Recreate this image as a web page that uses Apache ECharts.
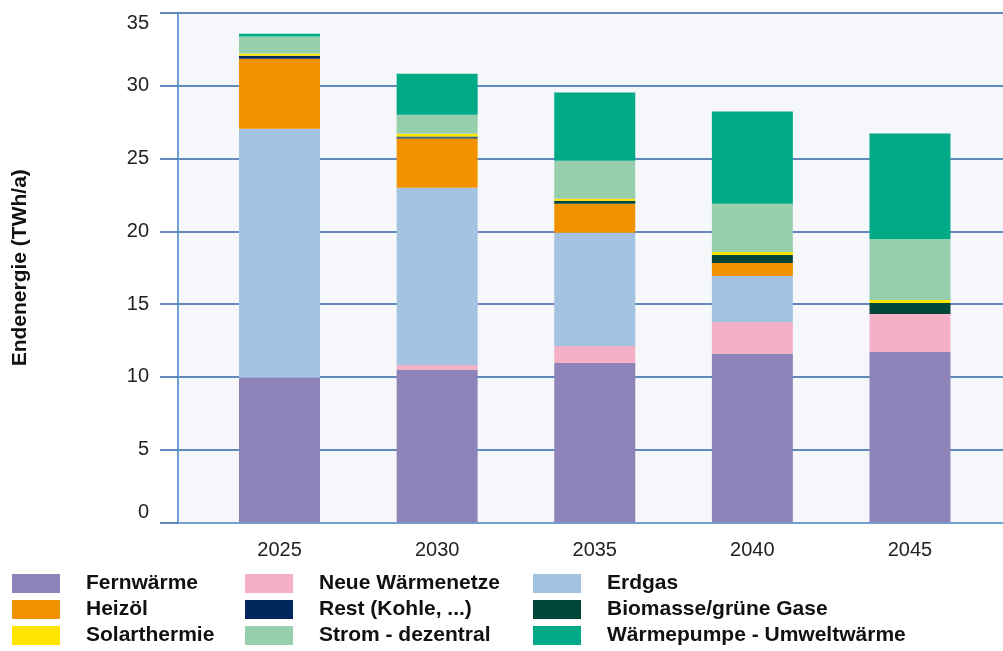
<!DOCTYPE html>
<html>
<head>
<meta charset="utf-8">
<script src="https://cdn.jsdelivr.net/npm/echarts/dist/echarts.min.js"></script>
<style>
  html, body { margin: 0; padding: 0; background: #fff; }
  #chart { width: 1003px; height: 651px; }
</style>
</head>
<body>
<div id="chart"></div>
<script>
var years = ['2025', '2030', '2035', '2040', '2045'];
var fernwaerme = [9.95, 10.48, 10.96, 11.6, 11.71];
var neueWaermenetze = [0, 0.34, 1.16, 2.17, 2.62];
var erdgas = [17.1, 12.17, 7.78, 3.17, 0];
var heizoel = [4.81, 3.39, 1.99, 0.89, 0];
var rest = [0.21, 0.07, 0, 0, 0];
var biomasse = [0, 0.07, 0.21, 0.55, 0.75];
var solarthermie = [0.14, 0.19, 0.14, 0.21, 0.21];
var stromDezentral = [1.17, 1.3, 2.61, 3.3, 4.19];
var waermepumpe = [0.2, 2.82, 4.69, 6.34, 7.24];

var seriesNames = ['Fernwärme', 'Neue Wärmenetze', 'Erdgas', 'Heizöl', 'Rest (Kohle, ...)',
  'Biomasse/grüne Gase', 'Solarthermie', 'Strom - dezentral', 'Wärmepumpe - Umweltwärme'];
var seriesData = [fernwaerme, neueWaermenetze, erdgas, heizoel, rest, biomasse, solarthermie, stromDezentral, waermepumpe];
var colors = ['#8f84b9', '#f4b0c6', '#a3c3e1', '#f39200', '#00285a', '#00473a', '#ffe500', '#97ceab', '#00aa86'];

var labelFont = "'Liberation Sans', Arial, sans-serif";
var gridLine = '#2f64a6';
var axisBlue = '#72a0d4';

var series = seriesNames.map(function (name, i) {
  return {
    name: name,
    type: 'bar',
    stack: 'total',
    xAxisIndex: 1,
    yAxisIndex: 1,
    barWidth: 81,
    data: seriesData[i],
    itemStyle: { color: colors[i] }
  };
});

function legendCol(left, names) {
  return {
    orient: 'vertical',
    left: left,
    top: 573,
    padding: 0,
    itemWidth: 48,
    itemHeight: 19,
    itemGap: 5,
    icon: 'rect',
    selectedMode: false,
    data: names,
    textStyle: {
      fontFamily: labelFont,
      fontWeight: 'bold',
      fontSize: 21,
      color: '#111',
      padding: [0, 0, 0, 21]
    }
  };
}

var myChart = echarts.init(document.getElementById('chart'));
myChart.setOption({
  animation: false,
  color: colors,
  grid: [
    // background + gridlines, wider than the bars
    { left: 178, right: 0, top: 13, bottom: 128.5, show: true, backgroundColor: '#f5f7fb', borderWidth: 0 },
    { left: 200.7, right: 14.2, top: 13, bottom: 128.5 }
  ],
  legend: [
    legendCol(12, ['Fernwärme', 'Heizöl', 'Solarthermie']),
    legendCol(245, ['Neue Wärmenetze', 'Rest (Kohle, ...)', 'Strom - dezentral']),
    legendCol(533, ['Erdgas', 'Biomasse/grüne Gase', 'Wärmepumpe - Umweltwärme'])
  ],
  xAxis: [
    {
      gridIndex: 0,
      type: 'value',
      min: 0,
      max: 1,
      axisLabel: { show: false },
      axisTick: { show: false },
      splitLine: { show: false },
      axisLine: { lineStyle: { color: axisBlue, width: 2 } }
    },
    {
      gridIndex: 1,
      type: 'category',
      data: years,
      axisLine: { show: false },
      axisTick: { show: false },
      axisLabel: { fontFamily: labelFont, fontSize: 20, color: '#222', margin: 18 }
    }
  ],
  yAxis: [
    {
      gridIndex: 0,
      type: 'value',
      min: 0,
      max: 35,
      interval: 5,
      name: 'Endenergie (TWh/a)',
      nameLocation: 'middle',
      nameGap: 147,
      nameTextStyle: { fontFamily: labelFont, fontWeight: 'bold', fontSize: 21, color: '#111' },
      axisLine: { show: true, lineStyle: { color: axisBlue, width: 2 } },
      axisTick: { show: true, length: 18, lineStyle: { color: gridLine, width: 1.5 } },
      axisLabel: {
        fontFamily: labelFont, fontSize: 20, color: '#222', margin: 29,
        verticalAlignMaxLabel: 'top',
        verticalAlignMinLabel: 'bottom'
      },
      splitLine: { lineStyle: { color: gridLine, width: 1.5 } }
    },
    {
      gridIndex: 1,
      type: 'value',
      min: 0,
      max: 35,
      show: false
    }
  ],
  series: series
});
</script>
</body>
</html>
